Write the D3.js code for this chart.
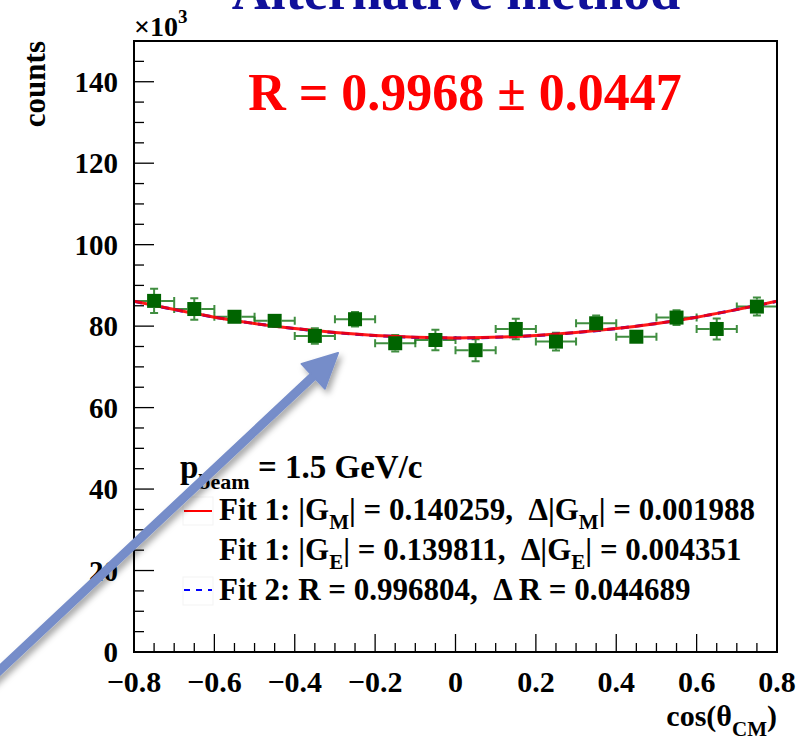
<!DOCTYPE html>
<html><head><meta charset="utf-8">
<script src="https://cdn.jsdelivr.net/npm/d3@7"></script>
<style>html,body{margin:0;padding:0;background:#fff;} text{font-family:"Liberation Serif","Times New Roman",serif;font-weight:bold;}</style>
</head><body>
<svg id="c" width="807" height="741"></svg>
<script>
// ---- data (counts in units of 10^3) ----
const binCenters = [-0.75,-0.65,-0.55,-0.45,-0.35,-0.25,-0.15,-0.05,0.05,0.15,0.25,0.35,0.45,0.55,0.65,0.75];
const counts     = [86.2,84.2,82.3,81.3,77.6,81.7,75.8,76.6,74.1,79.3,76.2,80.7,77.4,82.1,79.3,84.8];
const countErrs  = [3.0,2.65,1.5,1.5,1.9,1.8,2.0,2.5,2.7,2.5,2.2,1.9,1.5,1.8,2.6,2.2];
const binHalfWidth = 0.05;
const fitX = [-0.8,-0.6,-0.4,-0.2,0,0.2,0.4,0.6,0.8];
const fitY = [86.1,82.2,79.4,77.7,77.1,77.7,79.4,82.2,86.1];
const xTicks = [-0.8,-0.6,-0.4,-0.2,0,0.2,0.4,0.6,0.8];
const xTickLabels = ["\u22120.8","\u22120.6","\u22120.4","\u22120.2","0","0.2","0.4","0.6","0.8"];
const yTicks = [0,20,40,60,80,100,120,140];

const svg = d3.select("#c");
const L=134, R=777, T=41, B=652;
const x = d3.scaleLinear().domain([-0.8,0.8]).range([L,R]);
const y = d3.scaleLinear().domain([0,150]).range([B,T]);

svg.append("rect").attr("width",807).attr("height",741).attr("fill","#fff");

// defs
const defs = svg.append("defs");
const f = defs.append("filter").attr("id","sh").attr("x","-20%").attr("y","-20%").attr("width","140%").attr("height","140%");
f.append("feDropShadow").attr("dx",3).attr("dy",4).attr("stdDeviation",3).attr("flood-color","#000").attr("flood-opacity",0.35);
defs.append("clipPath").attr("id","plot").append("rect").attr("x",L).attr("y",T).attr("width",R-L).attr("height",B-T);

// title (clipped at top)
svg.append("text").attr("x",456).attr("y",9).attr("text-anchor","middle")
  .attr("font-size",54).attr("fill","#10109a").text("Alternative method");

// ticks
const yMinor = d3.range(0,150.1,5);
svg.append("g").selectAll("line").data(yMinor).join("line")
  .attr("x1",L).attr("x2",d=>L+(d%20===0?20:10)).attr("y1",d=>y(d)).attr("y2",d=>y(d))
  .attr("stroke","#000").attr("stroke-width",1.3);
const xMinor = d3.range(-16,17).map(i=>i*0.05);
svg.append("g").selectAll("line").data(xMinor).join("line")
  .attr("y1",B).attr("y2",(d,i)=>B-(i%4===0?18:9)).attr("x1",d=>x(d)).attr("x2",d=>x(d))
  .attr("stroke","#000").attr("stroke-width",1.3);

// tick labels
svg.append("g").selectAll("text").data(yTicks).join("text")
  .attr("x",118).attr("y",d=>y(d)+10).attr("text-anchor","end").attr("font-size",29).text(d=>d);
svg.append("g").selectAll("text").data(xTicks).join("text")
  .attr("x",d=>x(d)).attr("y",692).attr("text-anchor","middle").attr("font-size",30)
  .text((d,i)=>xTickLabels[i]);

// exponent
const ex = svg.append("text").attr("x",134).attr("y",36).attr("font-size",28);
ex.append("tspan").text("\u00d710");
ex.append("tspan").attr("dy",-13).attr("font-size",19).text("3");

// axis titles
svg.append("text").attr("transform","translate(45,41) rotate(-90)").attr("text-anchor","end")
  .attr("font-size",31).text("counts");
const xt = svg.append("text").attr("x",777).attr("y",726).attr("text-anchor","end").attr("font-size",30);
xt.append("tspan").text("cos(\u03b8");
xt.append("tspan").attr("dy",10).attr("font-size",21).text("CM");
xt.append("tspan").attr("dy",-10).text(")");

// data
const g = svg.append("g").attr("clip-path","url(#plot)");
const ec = "#1f7a1f";
const idx = d3.range(binCenters.length);
const ms = 7;
g.append("g").selectAll("path").data(idx).join("path")
  .attr("d",i=>{const cx=x(binCenters[i]), cy=y(counts[i]);
    const xl=x(binCenters[i]-binHalfWidth), xr=x(binCenters[i]+binHalfWidth);
    return `M${xl},${cy}H${cx-ms}M${cx+ms},${cy}H${xr}M${xl},${cy-4}V${cy+4}M${xr},${cy-4}V${cy+4}`;})
  .attr("stroke",ec).attr("stroke-width",2).attr("fill","none").attr("opacity",0.85);
g.append("g").selectAll("path").data(idx.filter(i=>y(counts[i]-countErrs[i])-y(counts[i])>ms)).join("path")
  .attr("d",i=>{const cx=x(binCenters[i]), cy=y(counts[i]);
    const yt=y(counts[i]+countErrs[i]), yb=y(counts[i]-countErrs[i]);
    return `M${cx},${yt}V${cy-ms}M${cx},${cy+ms}V${yb}M${cx-4},${yt}H${cx+4}M${cx-4},${yb}H${cx+4}`;})
  .attr("stroke",ec).attr("stroke-width",2).attr("fill","none").attr("opacity",0.85);

// fit curves
const line = d3.line().x((d,i)=>x(fitX[i])).y((d,i)=>y(d)).curve(d3.curveNatural);
g.append("path").attr("d",line(fitY)).attr("fill","none").attr("stroke","#0000ff").attr("stroke-width",3).attr("stroke-dasharray","8,6");
g.append("path").attr("d",line(fitY)).attr("fill","none").attr("stroke","#ff0000").attr("stroke-width",3).attr("opacity",0.9);

// markers
g.append("g").selectAll("rect").data(idx).join("rect")
  .attr("x",i=>x(binCenters[i])-ms).attr("y",i=>y(counts[i])-ms).attr("width",2*ms).attr("height",2*ms)
  .attr("fill","#006400");

// frame
svg.append("rect").attr("x",L).attr("y",T).attr("width",R-L).attr("height",B-T)
  .attr("fill","none").attr("stroke","#000").attr("stroke-width",2);

// R text
svg.append("text").attr("x",465).attr("y",110).attr("text-anchor","middle").attr("font-size",52)
  .attr("fill","#ff0000").text("R = 0.9968 \u00b1 0.0447");

// legend
const lg = svg.append("g");
const p = lg.append("text").attr("x",180).attr("y",478).attr("font-size",33);
p.append("tspan").text("p");
p.append("tspan").attr("dy",11).attr("font-size",22).text("beam");
p.append("tspan").attr("dy",-11).text(" = 1.5 GeV/c");
[[183,497],[183,577]].forEach(([bx,by])=>{
  lg.append("rect").attr("x",bx).attr("y",by).attr("width",30).attr("height",28).attr("fill","none").attr("stroke","#f3f3f3");
});
lg.append("line").attr("x1",184).attr("x2",212).attr("y1",511).attr("y2",511).attr("stroke","#ff0000").attr("stroke-width",2);
lg.append("line").attr("x1",184).attr("x2",212).attr("y1",590).attr("y2",590).attr("stroke","#0000ff").attr("stroke-width",2).attr("stroke-dasharray","6,6");
function fitLine(yy, parts){
  const t = lg.append("text").attr("x",219).attr("y",yy).attr("font-size",31);
  let shift = 0;
  parts.forEach(([s,sub])=>{
    const ts = t.append("tspan").text(s);
    if(sub){ ts.attr("dy",9-shift).attr("font-size",21); shift=9; }
    else { ts.attr("dy",-shift); shift=0; }
  });
}
fitLine(520,[["Fit 1: |G"],["M",1],["| = 0.140259,\u00a0\u00a0\u0394|G"],["M",1],["| = 0.001988"]]);
fitLine(560,[["Fit 1: |G"],["E",1],["| = 0.139811,\u00a0\u00a0\u0394|G"],["E",1],["| = 0.004351"]]);
fitLine(600,[["Fit 2: R = 0.996804,\u00a0\u00a0\u0394 R = 0.044689"]]);

// annotation arrow
const tip=[338,353], tail=[-15,684];
const dx=tip[0]-tail[0], dy=tip[1]-tail[1], len=Math.hypot(dx,dy);
const ux=dx/len, uy=dy/len, nx=-uy, ny=ux;
const hl=34, hw=17, sw=3.5;
const bx=tip[0]-ux*hl, by=tip[1]-uy*hl;
const pts=[[tail[0]+nx*sw,tail[1]+ny*sw],[bx+nx*sw,by+ny*sw],[bx+nx*hw,by+ny*hw],tip,[bx-nx*hw,by-ny*hw],[bx-nx*sw,by-ny*sw],[tail[0]-nx*sw,tail[1]-ny*sw]];
svg.append("path").attr("d","M"+pts.map(p=>p.join(",")).join("L")+"Z")
  .attr("fill","#768dc9").attr("stroke","#768dc9").attr("stroke-linejoin","round").attr("stroke-width",2).attr("filter","url(#sh)");
</script>
</body></html>
